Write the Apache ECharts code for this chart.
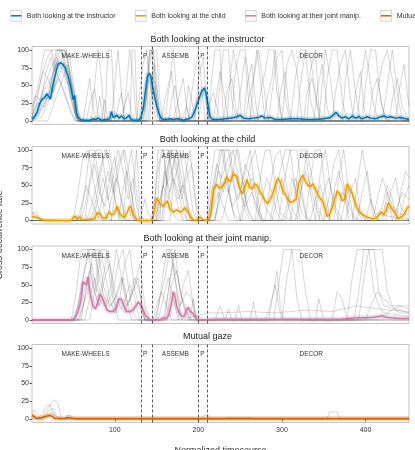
<!DOCTYPE html>
<html>
<head>
<meta charset="utf-8">
<style>
html, body { margin: 0; padding: 0; background: #fff; }
#main { width: 415px; height: 450px; }
</style>
</head>
<body>
<div id="main"></div>
<script src="https://cdn.jsdelivr.net/npm/echarts@6.0.0/dist/echarts.min.js"></script>
<script>
// 面板名称 (也是图例)
var panelNames = ['Both looking at the instructor', 'Both looking at the child', 'Both looking at their joint manip.', 'Mutual gaze'];
var panelColors = ['#0072B2', '#E69F00', '#CC79A7', '#D55E00'];
var bandColors = ['rgba(0,114,178,0.22)', 'rgba(230,159,0,0.22)', 'rgba(204,121,167,0.25)', 'rgba(213,94,0,0.25)'];

// 任务阶段
var phaseNames = ['MAKE-WHEELS', 'P', 'ASSEMB', 'P', 'DECOR'];
var phaseCenters = [65, 136.5, 172.5, 205, 335];
var phaseBounds = [131.5, 144.5, 200, 211];

var xTicks = [100, 200, 300, 400];
var yTicks = [0, 25, 50, 75, 100];

// 平均值曲线 [时间, 比率]
var meanInstructor = [[1,3],[4,6],[7,12],[10,24],[13,30],[16,33],[19,38],[21,38],[23,31],[26,50],[29,66],[32,80],[35,82],[38,80],[41,74],[44,64],[47,50],[49,38],[50,30],[52,36],[54,12],[56,5],[59,2],[64,1],[70,1],[74,3],[77,2],[80,4],[84,1],[90,2],[94,3],[96,13],[98,5],[100,3],[103,8],[105,4],[108,7],[111,3],[114,4],[117,8],[119,3],[122,1],[128,1],[131,4],[134,17],[137,45],[139,62],[141,67],[143,64],[145,50],[148,32],[150,22],[153,10],[156,3],[160,2],[166,3],[170,2],[176,3],[182,1],[188,3],[192,5],[195,12],[198,22],[201,32],[204,42],[207,46],[209,40],[212,20],[214,6],[217,2],[225,2],[232,3],[240,4],[246,6],[250,8],[254,4],[260,3],[266,4],[272,5],[276,7],[280,4],[286,5],[292,2],[300,2],[310,3],[320,3],[330,2],[340,2],[350,3],[358,5],[362,9],[365,12],[368,7],[372,4],[376,6],[380,3],[384,7],[388,4],[392,6],[396,3],[402,6],[406,4],[412,3],[418,6],[422,7],[426,5],[430,6],[436,4],[442,5],[448,3],[452,2]];
var meanChild = [[1,6],[4,5],[7,4],[10,3],[12,1],[15,0],[48,0],[50,4],[53,6],[55,2],[58,5],[61,1],[66,1],[72,2],[76,2],[79,11],[82,10],[85,4],[89,3],[93,12],[96,8],[99,9],[103,20],[106,10],[109,6],[112,5],[115,12],[118,20],[120,17],[122,8],[125,3],[128,0],[144,0],[146,5],[148,18],[150,32],[152,30],[154,24],[156,22],[158,20],[160,22],[163,28],[166,16],[170,12],[174,15],[178,12],[181,14],[184,18],[187,13],[190,6],[193,2],[196,0],[199,1],[202,5],[205,2],[208,0],[212,1],[215,10],[218,44],[220,48],[222,51],[225,46],[228,48],[231,52],[234,62],[236,58],[238,55],[241,64],[244,65],[246,62],[248,52],[250,44],[253,38],[256,50],[258,58],[261,48],[264,45],[268,52],[271,48],[274,40],[276,36],[280,28],[283,24],[286,30],[289,38],[292,50],[295,60],[298,55],[301,42],[305,35],[309,26],[313,27],[317,30],[320,52],[322,58],[325,64],[328,56],[331,50],[334,48],[337,52],[341,42],[345,33],[349,26],[352,14],[354,6],[357,8],[360,18],[363,30],[366,42],[369,38],[372,28],[375,30],[378,52],[381,44],[384,38],[387,28],[390,18],[393,12],[397,8],[401,5],[405,4],[409,2],[413,4],[416,8],[419,12],[422,8],[425,16],[427,25],[430,20],[433,14],[436,10],[439,3],[443,5],[447,10],[450,18],[452,20]];
var meanJoint = [[1,0],[46,0],[50,1],[53,4],[56,12],[58,20],[60,32],[62,54],[64,52],[66,50],[68,61],[70,42],[72,30],[74,20],[77,16],[80,26],[82,36],[85,32],[88,22],[91,14],[94,12],[98,12],[102,18],[105,30],[108,29],[111,20],[114,12],[118,12],[122,14],[125,20],[128,25],[131,22],[134,14],[137,6],[140,2],[143,0],[154,0],[158,3],[162,2],[165,8],[168,25],[170,40],[172,34],[174,20],[177,10],[180,6],[183,5],[186,14],[188,18],[190,12],[193,10],[196,4],[199,1],[204,0],[220,1],[260,1],[300,1],[340,1],[370,1],[380,2],[390,3],[400,3],[410,4],[416,5],[420,6],[424,4],[430,3],[440,2],[452,2]];
var meanMutual = [[1,5],[3,3],[6,1],[10,1],[13,2],[16,3],[19,4],[22,5],[25,4],[28,1],[30,0.5],[36,0.5],[40,1],[44,2],[48,1.5],[52,0.5],[100,0.5],[200,0.5],[300,0.5],[400,0.5],[452,0.5]];

// 个体曲线 (灰色)
var tracesInstructor = [
    [[1,5],[6,25],[12,60],[18,85],[24,100],[36,100],[42,70],[48,30],[54,5],[60,0],[78,0],[82,35],[86,0],[138,0],[141,70],[144,100],[148,40],[152,0],[222,0],[226,55],[230,100],[236,100],[240,30],[246,0],[330,0],[334,70],[340,100],[344,20],[350,0],[452,0]],
    [[1,0],[8,15],[14,40],[22,55],[30,80],[38,100],[46,90],[52,40],[58,0],[96,0],[100,55],[104,100],[108,40],[112,0],[136,0],[140,90],[146,100],[150,30],[154,0],[196,0],[200,60],[206,90],[210,20],[214,0],[262,0],[266,60],[272,100],[278,50],[284,0],[372,0],[376,60],[382,100],[388,40],[394,0],[452,0]],
    [[1,20],[5,35],[10,30],[16,50],[24,75],[30,90],[36,75],[42,55],[48,45],[54,10],[60,0],[118,0],[121,100],[124,100],[127,0],[160,0],[164,40],[168,70],[172,20],[176,0],[240,0],[244,70],[250,100],[256,100],[262,40],[268,0],[300,0],[306,80],[312,100],[318,70],[324,0],[420,0],[426,50],[432,100],[438,40],[444,0],[452,0]],
    [[1,0],[10,10],[18,30],[26,65],[32,100],[42,100],[48,50],[54,0],[66,0],[70,25],[76,45],[80,10],[84,0],[140,0],[143,50],[147,80],[151,20],[156,0],[184,0],[188,50],[192,30],[196,0],[212,0],[216,60],[220,100],[226,100],[230,0],[284,0],[288,40],[294,90],[300,100],[304,30],[310,0],[350,0],[354,60],[360,100],[366,100],[372,30],[378,0],[452,0]],
    [[1,10],[8,25],[16,20],[24,45],[30,70],[36,85],[42,100],[48,60],[54,20],[60,0],[104,0],[110,15],[116,40],[120,10],[124,0],[142,0],[145,60],[150,50],[154,0],[170,0],[176,30],[182,60],[186,20],[190,0],[254,0],[258,50],[264,80],[268,30],[272,0],[318,0],[322,50],[328,100],[334,90],[340,40],[346,0],[396,0],[400,50],[406,100],[412,100],[418,30],[424,0],[452,0]],
    [[1,0],[12,5],[20,25],[28,50],[34,60],[40,40],[46,20],[52,0],[88,0],[92,100],[96,100],[100,0],[130,0],[138,30],[142,100],[146,100],[150,60],[154,0],[200,0],[204,30],[208,50],[212,0],[230,0],[234,40],[240,60],[246,10],[250,0],[338,0],[342,40],[348,80],[354,20],[358,0],[436,0],[440,40],[446,80],[452,20]],
    [[1,0],[14,20],[22,40],[30,100],[36,100],[42,80],[50,30],[56,0],[180,0],[186,20],[190,0],[278,0],[282,30],[288,60],[292,100],[296,40],[300,0],[384,0],[388,40],[394,70],[398,20],[402,0],[452,0]],
    [[1,0],[4,30],[10,60],[16,100],[24,100],[30,70],[36,50],[42,30],[48,10],[54,0],[62,0],[66,30],[70,60],[74,20],[78,0],[110,0],[114,50],[118,100],[122,60],[126,0],[156,0],[160,30],[166,60],[170,100],[174,40],[178,0],[246,0],[250,40],[256,90],[260,30],[264,0],[310,0],[316,60],[322,100],[328,100],[334,30],[340,0],[404,0],[408,40],[414,60],[420,20],[426,0],[452,0]],
    [[1,0],[6,10],[12,30],[18,70],[24,90],[28,70],[34,100],[40,100],[46,70],[52,20],[58,0],[72,0],[76,50],[80,100],[84,60],[88,0],[126,0],[130,40],[134,80],[138,100],[142,60],[146,20],[150,0],[188,0],[192,40],[196,70],[200,100],[204,50],[208,0],[234,0],[238,60],[242,100],[248,60],[252,0],[294,0],[298,40],[304,70],[308,20],[312,0],[360,0],[364,40],[370,80],[376,100],[380,50],[386,0],[428,0],[432,30],[438,60],[444,20],[452,0]],
    [[1,15],[8,40],[14,70],[20,60],[26,40],[32,60],[38,80],[44,50],[50,20],[56,0],[100,0],[104,20],[108,40],[112,0],[164,0],[168,30],[172,50],[176,20],[180,0],[218,0],[222,40],[226,70],[232,30],[236,0],[270,0],[274,40],[280,70],[284,100],[290,100],[294,40],[300,0],[344,0],[348,50],[352,100],[358,60],[364,0],[390,0],[394,50],[400,100],[404,70],[410,20],[416,0],[452,0]],
    [[1,0],[20,0],[26,20],[32,40],[38,60],[44,80],[50,40],[56,0],[84,0],[88,30],[92,0],[134,0],[138,40],[142,100],[150,100],[154,30],[158,0],[208,0],[212,20],[218,40],[224,10],[228,0],[256,0],[260,30],[266,60],[270,100],[274,60],[280,0],[326,0],[330,40],[336,60],[342,20],[346,0],[410,0],[414,40],[420,80],[426,100],[432,60],[438,10],[444,0],[452,0]]
];
var tracesChild = [
    [[1,10],[6,12],[10,0],[50,0],[56,40],[62,90],[68,100],[74,60],[80,20],[86,0],[110,0],[114,60],[120,100],[126,40],[130,0],[146,0],[150,60],[156,100],[164,100],[170,50],[176,20],[182,0],[214,0],[220,60],[226,100],[236,100],[242,50],[248,30],[256,70],[262,100],[268,40],[274,0],[296,0],[302,50],[310,100],[318,100],[324,40],[330,0],[362,0],[368,60],[374,100],[380,40],[386,0],[420,0],[426,40],[432,20],[452,0]],
    [[1,0],[60,0],[66,30],[72,70],[78,100],[84,100],[90,50],[96,0],[118,0],[122,40],[126,100],[130,20],[134,0],[150,0],[154,80],[158,100],[162,50],[168,70],[174,100],[180,40],[186,0],[212,0],[216,40],[222,80],[228,60],[236,90],[242,100],[248,60],[254,20],[262,0],[280,0],[286,50],[292,90],[298,100],[304,60],[310,20],[320,0],[340,0],[346,70],[352,100],[358,50],[364,20],[372,0],[400,0],[406,30],[412,10],[452,0]],
    [[1,5],[8,5],[14,0],[70,0],[76,20],[82,60],[88,100],[94,100],[100,30],[106,0],[156,0],[160,40],[166,100],[172,80],[178,40],[184,60],[190,100],[196,30],[200,0],[220,0],[226,40],[232,60],[238,30],[244,0],[268,0],[274,60],[280,100],[286,100],[292,50],[298,10],[310,0],[328,0],[334,60],[340,100],[346,100],[352,40],[358,0],[390,0],[396,40],[402,70],[408,20],[414,0],[440,0],[446,30],[452,50]],
    [[1,0],[80,0],[86,40],[92,70],[98,40],[104,80],[110,100],[116,50],[122,0],[144,0],[148,30],[152,100],[158,100],[164,40],[170,10],[176,0],[210,0],[214,50],[220,100],[230,100],[236,50],[242,10],[250,0],[256,40],[262,80],[268,100],[274,60],[280,20],[290,0],[310,0],[316,40],[322,100],[328,100],[334,40],[340,0],[376,0],[382,40],[388,60],[394,10],[400,0],[452,0]],
    [[1,0],[54,0],[60,20],[66,50],[72,30],[78,10],[84,0],[96,0],[100,40],[106,80],[112,100],[118,60],[124,0],[166,0],[170,50],[176,80],[182,100],[188,60],[194,10],[200,0],[228,0],[234,30],[240,60],[246,100],[252,60],[258,20],[266,0],[300,0],[306,20],[312,60],[318,40],[324,10],[332,0],[350,0],[356,30],[362,80],[368,100],[374,50],[380,10],[390,0],[424,0],[430,40],[436,60],[442,20],[452,0]],
    [[1,0],[64,0],[70,50],[76,80],[82,40],[88,20],[94,60],[100,90],[106,40],[112,0],[148,0],[152,20],[158,50],[164,30],[170,60],[176,40],[182,10],[188,0],[218,0],[224,20],[230,50],[236,40],[242,70],[248,50],[256,20],[264,40],[270,20],[278,0],[288,0],[294,30],[300,60],[306,30],[312,0],[334,0],[340,30],[346,50],[352,20],[358,0],[408,0],[414,30],[420,60],[426,40],[432,0],[452,0]],
    [[1,0],[90,0],[96,30],[102,60],[108,30],[114,0],[150,0],[156,40],[162,70],[168,100],[174,100],[180,60],[186,20],[192,0],[212,0],[218,20],[224,40],[230,20],[236,0],[252,0],[258,40],[264,60],[270,40],[276,0],[316,0],[322,40],[328,70],[334,50],[340,20],[346,0],[366,0],[372,40],[378,30],[384,10],[392,0],[432,0],[438,20],[444,40],[452,30]],
    [[1,0],[58,0],[64,40],[70,100],[76,100],[82,50],[88,10],[94,0],[104,0],[108,30],[114,70],[120,40],[126,0],[152,0],[156,30],[160,70],[166,40],[172,90],[178,100],[184,50],[190,0],[210,0],[216,30],[222,60],[228,100],[234,60],[240,20],[250,40],[256,80],[262,60],[268,20],[276,0],[286,0],[292,40],[298,70],[304,100],[310,100],[316,40],[322,0],[344,0],[350,40],[356,60],[362,20],[368,0],[384,0],[390,50],[396,100],[402,60],[408,10],[416,0],[436,0],[442,40],[448,70],[452,60]],
    [[1,12],[5,8],[10,2],[40,0],[66,0],[72,20],[78,50],[84,80],[90,100],[96,60],[102,20],[108,0],[130,0],[136,30],[140,10],[146,0],[158,0],[162,50],[168,100],[174,80],[180,30],[186,60],[192,80],[198,20],[204,0],[220,0],[226,50],[232,100],[238,100],[244,40],[250,0],[270,0],[276,30],[282,60],[288,40],[294,10],[300,0],[318,0],[324,50],[330,100],[336,60],[342,20],[350,0],[370,0],[376,30],[382,50],[388,20],[396,0],[452,0]],
    [[1,0],[74,0],[80,30],[86,60],[92,30],[98,60],[104,100],[110,70],[116,30],[122,60],[126,20],[130,0],[154,0],[158,60],[164,100],[170,60],[176,30],[182,50],[188,20],[194,0],[214,0],[218,30],[224,70],[230,40],[236,70],[242,100],[248,100],[254,50],[260,10],[266,0],[304,0],[310,30],[316,60],[322,40],[328,10],[334,0],[356,0],[362,40],[368,70],[374,40],[380,0],[414,0],[420,20],[426,50],[432,30],[438,0],[452,0]]
];
var tracesJoint = [
    [[1,0],[48,0],[54,40],[60,100],[68,100],[74,50],[80,20],[86,60],[92,100],[98,40],[104,0],[150,0],[156,50],[162,100],[168,100],[174,40],[180,0],[300,0],[306,60],[312,100],[322,100],[328,40],[334,0],[452,0]],
    [[1,0],[52,0],[58,30],[64,70],[70,100],[76,100],[82,40],[90,20],[98,40],[104,80],[110,100],[116,50],[122,10],[128,0],[158,0],[164,40],[170,80],[176,60],[182,20],[188,0],[284,0],[290,40],[294,70],[298,20],[302,0],[378,0],[384,60],[390,100],[410,100],[416,40],[422,20],[452,10]],
    [[1,0],[56,0],[62,20],[68,40],[74,100],[80,100],[86,50],[94,20],[100,30],[108,60],[114,30],[120,0],[146,0],[150,20],[156,40],[162,20],[168,0],[190,0],[194,30],[198,0],[220,0],[226,20],[232,0],[340,0],[344,30],[350,0],[392,0],[398,60],[404,100],[420,100],[426,40],[432,20],[440,10],[452,10]],
    [[1,0],[60,0],[66,50],[72,80],[78,40],[84,100],[90,100],[96,40],[102,10],[110,20],[118,50],[124,30],[130,0],[160,0],[166,60],[172,100],[178,40],[184,20],[190,0],[244,0],[248,20],[252,0],[262,0],[266,25],[270,0],[360,0],[366,40],[372,30],[378,0],[452,0]],
    [[1,0],[64,0],[70,30],[76,60],[82,30],[88,20],[96,50],[102,100],[108,60],[114,20],[122,40],[128,60],[132,20],[136,0],[176,0],[182,50],[188,70],[194,20],[198,0],[400,0],[406,20],[414,40],[422,30],[430,20],[452,20]],
    [[1,0],[70,0],[76,40],[82,100],[88,70],[94,30],[100,10],[106,30],[112,80],[118,100],[124,40],[130,20],[136,0],[152,0],[158,30],[164,60],[170,30],[176,0],[212,10],[230,10],[260,12],[290,10],[330,14],[360,12],[390,20],[420,15],[452,12]],
    [[1,0],[50,0],[56,20],[62,60],[68,100],[76,100],[82,60],[88,30],[96,20],[104,40],[110,60],[116,20],[124,50],[130,80],[136,20],[142,0],[148,0],[154,30],[160,60],[166,100],[172,60],[178,20],[186,40],[192,30],[198,0],[232,0],[236,15],[240,0],[290,0],[296,50],[302,100],[312,100],[318,30],[324,0],[386,0],[392,40],[398,100],[404,100],[410,40],[416,20],[422,10],[452,5]],
    [[1,0],[58,0],[64,30],[70,70],[76,40],[82,20],[88,60],[94,80],[100,40],[106,20],[112,10],[118,30],[124,60],[130,40],[136,0],[162,0],[168,50],[174,70],[180,30],[186,10],[192,0],[280,0],[286,20],[292,50],[296,20],[300,0],[420,0],[426,10],[440,20],[452,15]]
];
var tracesMutual = [
    [[1,10],[4,12],[8,5],[12,0],[18,10],[24,22],[28,27],[32,22],[36,0],[452,0]],
    [[1,5],[8,0],[14,8],[18,18],[22,20],[26,10],[30,0],[40,0],[44,5],[48,4],[52,0],[452,0]],
    [[1,0],[16,0],[20,10],[26,15],[30,5],[34,0],[204,0],[207,5],[212,5],[215,0],[354,0],[357,10],[366,10],[369,0],[452,0]],
    [[1,8],[6,3],[12,2],[20,6],[26,8],[32,2],[40,0],[230,0],[234,2],[262,2],[266,0],[452,0]]
];

var means = [meanInstructor, meanChild, meanJoint, meanMutual];
var traces = [tracesInstructor, tracesChild, tracesJoint, tracesMutual];

// 每个面板的位置
var gridTops = [46.5, 146.5, 246, 344.5];
var gridHeights = [78, 77.5, 77.5, 78];
var titleCenters = [40, 140, 239, 337];

var fontFamily = '"Liberation Sans", Arial, sans-serif';

var grids = [], xAxes = [], yAxes = [], titles = [], series = [];

panelNames.forEach(function (name, i) {
    var last = i === panelNames.length - 1;
    grids.push({
        left: 32, width: 377, top: gridTops[i], height: gridHeights[i],
        outerBoundsMode: 'none',   // v6: 不要为了标签缩小网格
        show: true, borderColor: '#c4c4c4', borderWidth: 1, backgroundColor: '#fff'
    });
    titles.push({
        text: name, left: 'center', top: titleCenters[i] - 4.5, padding: 0,
        textStyle: { fontSize: 9, fontWeight: 'normal', color: '#222', fontFamily: fontFamily }
    });
    xAxes.push({
        type: 'value', gridIndex: i, min: 1, max: 452,
        axisLine: { show: false },
        splitLine: { show: false },
        axisTick: { show: last, length: 2.5, lineStyle: { color: '#333', width: 0.8 }, customValues: xTicks },
        axisLabel: { show: last, fontSize: 7, color: '#333', margin: 4, fontFamily: fontFamily, customValues: xTicks },
        name: last ? 'Normalized timecourse' : '',
        nameLocation: 'middle', nameGap: 24,
        nameTextStyle: { fontSize: 9, color: '#333', fontFamily: fontFamily }
    });
    yAxes.push({
        type: 'value', gridIndex: i, min: -5, max: 105,
        axisLine: { show: false },
        splitLine: { show: false },
        axisTick: { show: true, length: 2.5, lineStyle: { color: '#333', width: 0.8 }, customValues: yTicks },
        axisLabel: { fontSize: 7, color: '#333', margin: 3, fontFamily: fontFamily, customValues: yTicks }
    });

    // 灰色个体曲线
    traces[i].forEach(function (tr) {
        series.push({
            type: 'line', xAxisIndex: i, yAxisIndex: i, data: tr,
            showSymbol: false, silent: true, z: 1,
            lineStyle: { color: 'rgba(80,80,80,0.4)', width: 0.6 }
        });
    });

    // 置信带 + 阶段分隔线和标签
    series.push({
        type: 'line', xAxisIndex: i, yAxisIndex: i, data: means[i],
        showSymbol: false, silent: true, z: 2,
        lineStyle: { color: bandColors[i], width: 5 },
        markLine: {
            silent: true, symbol: 'none', label: { show: false },
            lineStyle: { color: '#333', type: [3, 2], width: 0.8 },
            data: phaseBounds.map(function (b) { return { xAxis: b }; })
        },
        markPoint: {
            silent: true, symbol: 'circle', symbolSize: 0,
            label: { show: true, position: 'inside', fontSize: 6.5, color: '#333', fontFamily: fontFamily, formatter: '{b}' },
            data: phaseNames.map(function (p, k) { return { name: p, coord: [phaseCenters[k], 91] }; })
        }
    });

    // 平均曲线
    series.push({
        name: name, type: 'line', xAxisIndex: i, yAxisIndex: i, data: means[i],
        symbol: 'rect', showSymbol: false, silent: true, z: 3,
        color: panelColors[i],
        lineStyle: { color: panelColors[i], width: 1.5 }
    });
});

var myChart = echarts.init(document.getElementById('main'));
myChart.setOption({
    animation: false,
    backgroundColor: '#fff',
    title: titles,
    legend: {
        data: panelNames,
        left: 10, top: 10, width: 900, padding: 0,
        itemWidth: 11, itemHeight: 13.5, itemGap: 19,
        itemStyle: { color: 'rgba(0,0,0,0)', borderColor: '#c8c8c8', borderWidth: 0.8 },
        lineStyle: { width: 1.5 },
        textStyle: { fontSize: 7, color: '#333', fontFamily: fontFamily }
    },
    grid: grids,
    xAxis: xAxes,
    yAxis: yAxes,
    series: series,
    graphic: [{
        type: 'text', x: 0, y: 235, rotation: Math.PI / 2,
        style: { text: 'Cross-occurrence rate', fontSize: 9, fill: '#333', fontFamily: fontFamily, align: 'center', verticalAlign: 'middle' }
    }]
});
</script>
</body>
</html>
